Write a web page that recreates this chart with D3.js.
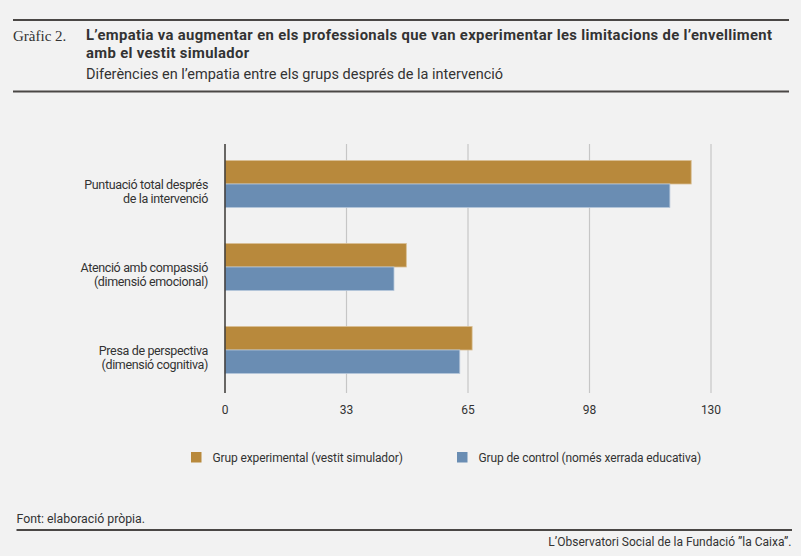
<!DOCTYPE html>
<html>
<head>
<meta charset="utf-8">
<script src="https://cdn.jsdelivr.net/npm/d3@7"></script>
<style>
  html, body { margin: 0; padding: 0; background: #f2f2f2; }
  svg { display: block; }
  text { font-family: Roboto, "Noto Sans", sans-serif; fill: #333; }
</style>
</head>
<body>
<svg id="chart" width="801" height="556"></svg>
<script>
// ---- data ----
const categories = [
  ["Puntuació total després", "de la intervenció"],
  ["Atenció amb compassió", "(dimensió emocional)"],
  ["Presa de perspectiva", "(dimensió cognitiva)"]
];
const categoryKeys = ["total", "compassio", "perspectiva"];
const seriesNames = ["Grup experimental (vestit simulador)", "Grup de control (només xerrada educativa)"];
const experimentalValues = [124.7, 48.5, 66.1];
const controlValues = [119.0, 45.2, 62.8];
const tickValues = [0, 32.5, 65, 97.5, 130];
const tickLabels = ["0", "33", "65", "98", "130"];

const colors = ["#b8893c", "#6a8db3"];
const svg = d3.select("#chart");
const W = 801, H = 556;

svg.append("rect").attr("width", W).attr("height", H).attr("fill", "#f2f2f2");

// header
svg.append("line").attr("x1", 13).attr("x2", 789).attr("y1", 20).attr("y2", 20)
  .attr("stroke", "#4a4745").attr("stroke-width", 2);
svg.append("line").attr("x1", 13).attr("x2", 789).attr("y1", 91.5).attr("y2", 91.5)
  .attr("stroke", "#4a4745").attr("stroke-width", 2);
svg.append("text").attr("x", 13).attr("y", 40.5)
  .style("font-family", '"Liberation Serif", "DejaVu Serif", serif')
  .style("font-size", "15px").attr("fill", "#333")
  .text("Gràfic 2.");
svg.append("text").attr("x", 86).attr("y", 39.5)
  .style("font-size", "14.8px").style("font-weight", "bold").style("letter-spacing", "0.35px")
  .attr("fill", "#2e2b29")
  .text("L’empatia va augmentar en els professionals que van experimentar les limitacions de l’envelliment");
svg.append("text").attr("x", 86).attr("y", 57.5)
  .style("font-size", "14.8px").style("font-weight", "bold").style("letter-spacing", "0.35px")
  .attr("fill", "#2e2b29")
  .text("amb el vestit simulador");
svg.append("text").attr("x", 86).attr("y", 79)
  .style("font-size", "14.5px").attr("fill", "#3a3735")
  .text("Diferències en l’empatia entre els grups després de la intervenció");

// scales
const x = d3.scaleLinear().domain([0, 130]).range([225, 711]);
const y = d3.scaleBand().domain(categoryKeys).range([142.5, 391.5])
  .paddingInner(0.434).paddingOuter(0.217);
const ySub = d3.scaleBand().domain([0, 1]).range([0, y.bandwidth()]);

// gridlines
svg.append("g").selectAll("line").data(tickValues.slice(1)).join("line")
  .attr("x1", d => x(d)).attr("x2", d => x(d))
  .attr("y1", 144).attr("y2", 393)
  .attr("stroke", "#c6c6c6").attr("stroke-width", 1.2);

// tick labels
svg.append("g").selectAll("text").data(tickValues).join("text")
  .attr("x", d => x(d)).attr("y", 413.5)
  .attr("text-anchor", "middle")
  .style("font-size", "12px").attr("fill", "#333")
  .text((d, i) => tickLabels[i]);

// bars
const rows = categoryKeys.map((k, i) => ({ key: k, vals: [experimentalValues[i], controlValues[i]] }));
const groups = svg.append("g").selectAll("g").data(rows).join("g")
  .attr("transform", d => `translate(0,${y(d.key)})`);
groups.selectAll("rect").data(d => d.vals.map((v, j) => ({ v, j }))).join("rect")
  .attr("x", x(0)).attr("y", d => ySub(d.j))
  .attr("width", d => x(d.v) - x(0)).attr("height", ySub.bandwidth())
  .attr("fill", d => colors[d.j])
  .attr("stroke", d => d.j === 0 ? "#d9bf94" : "#b5c6da").attr("stroke-width", 0.8);

// zero axis line
svg.append("line").attr("x1", x(0)).attr("x2", x(0)).attr("y1", 144).attr("y2", 393)
  .attr("stroke", "#3a3735").attr("stroke-width", 1.5);

// category labels
const lab = svg.append("g").selectAll("text").data(rows).join("text")
  .attr("text-anchor", "end")
  .style("font-size", "12.5px").style("letter-spacing", "-0.35px").attr("fill", "#333");
lab.each(function(d, i) {
  const c = y(d.key) + y.bandwidth() / 2;
  const t = d3.select(this);
  categories[i].forEach((line, li) => {
    t.append("tspan").attr("x", 208).attr("y", c + 4.5 + li * 14.5).text(line);
  });
});

// legend
const legX = [191, 457];
const leg = svg.append("g").selectAll("g").data(seriesNames).join("g")
  .attr("transform", (d, i) => `translate(${legX[i]},452)`);
leg.append("rect").attr("width", 10.5).attr("height", 10.5).attr("fill", (d, i) => colors[i]);
leg.append("text").attr("x", 21.5).attr("y", 10).style("font-size", "12px")
  .style("letter-spacing", "-0.12px").attr("fill", "#333").text(d => d);

// footer
svg.append("text").attr("x", 16.5).attr("y", 523).style("font-size", "12.3px").attr("fill", "#333")
  .text("Font: elaboració pròpia.");
svg.append("line").attr("x1", 16.5).attr("x2", 792).attr("y1", 530).attr("y2", 530)
  .attr("stroke", "#4a4745").attr("stroke-width", 2);
svg.append("text").attr("x", 791.5).attr("y", 545.5).attr("text-anchor", "end")
  .style("font-size", "12px").attr("fill", "#333")
  .text("L’Observatori Social de la Fundació ”la Caixa”.");
</script>
</body>
</html>
